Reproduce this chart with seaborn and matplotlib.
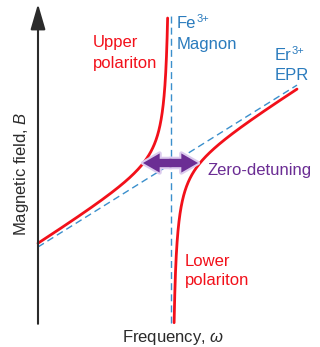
import numpy as np
import pandas as pd
import matplotlib
matplotlib.use("Agg")
import matplotlib.pyplot as plt
import seaborn as sns

# Schematic model parameters (arbitrary units)
magnon_freq = 133.0          # Fe3+ magnon (vertical line)
epr_intercept = 76.0         # Er3+ EPR line: B = intercept + slope * w
epr_slope = 0.625
coupling = 500.0             # anticrossing strength
w_max_epr = 259.0
b_top = 305.0
zero_detune_left = 105.0
zero_detune_right = 160.0
zero_detune_B = 160.0

sns.set_theme(style="white")
plt.rcParams["font.family"] = ["Liberation Sans", "DejaVu Sans"]
plt.rcParams["mathtext.fontset"] = "custom"
plt.rcParams["mathtext.rm"] = "Liberation Sans"
plt.rcParams["mathtext.it"] = "Liberation Sans:italic"
plt.rcParams["mathtext.bf"] = "Liberation Sans:bold"

fig = plt.figure(figsize=(3.2, 3.47), dpi=100)
ax = fig.add_axes([0, 0, 1, 1])
ax.set_xlim(-38, 282)
ax.set_ylim(-24, 323)
ax.axis("off")

red = "#f2101a"
blue = "#3b8fcc"
txtblue = "#2a7bbd"
purple = "#6b2d94"
axcol = "#2b2b2b"

def epr(w):
    return epr_intercept + epr_slope * w

# upper polariton
d_up = np.geomspace(magnon_freq, 0.5, 600)
w_up = magnon_freq - d_up
b_up = epr(w_up) + coupling / d_up
m = b_up <= b_top
up = pd.DataFrame({"w": w_up[m], "B": b_up[m]})
# lower polariton
d_lo = np.geomspace(0.5, w_max_epr - magnon_freq, 600)
w_lo = magnon_freq + d_lo
b_lo = epr(w_lo) - coupling / d_lo
m = b_lo >= 0
lo = pd.DataFrame({"w": w_lo[m], "B": b_lo[m]})

epr_df = pd.DataFrame({"w": [0, w_max_epr], "B": [epr(0), epr(w_max_epr)]})
mag_df = pd.DataFrame({"w": [magnon_freq, magnon_freq], "B": [0, 308]})

sns.lineplot(data=mag_df, x="w", y="B", ax=ax, color=blue, lw=1.0,
             sort=False, estimator=None)
ax.lines[-1].set_dashes([5, 3])
sns.lineplot(data=epr_df, x="w", y="B", ax=ax, color=blue, lw=1.0,
             sort=False, estimator=None)
ax.lines[-1].set_dashes([5, 3])
sns.lineplot(data=up, x="w", y="B", ax=ax, color=red, lw=2.0,
             sort=False, estimator=None)
sns.lineplot(data=lo, x="w", y="B", ax=ax, color=red, lw=2.0,
             sort=False, estimator=None)

# axes arrows
ax.annotate("", xy=(283, 0), xytext=(-1, 0),
            arrowprops=dict(arrowstyle="-|>,head_length=1.3,head_width=0.38",
                            color=axcol, lw=1.5, shrinkA=0, shrinkB=0))
ax.annotate("", xy=(0, 319), xytext=(0, -0.8),
            arrowprops=dict(arrowstyle="-|>,head_length=1.3,head_width=0.38",
                            color=axcol, lw=1.5, shrinkA=0, shrinkB=0))

# zero-detuning double arrow (glow first, then arrow)
mid = (zero_detune_left + zero_detune_right) / 2
style = "simple,head_length=1.0,head_width=1.15,tail_width=0.5"
for col, lw in (("#dccbee", 3.0), (purple, 0)):
    for end, start in ((zero_detune_left, mid + 1), (zero_detune_right, mid - 1)):
        ax.annotate("", xy=(end, zero_detune_B), xytext=(start, zero_detune_B),
                    arrowprops=dict(arrowstyle=style, facecolor=col,
                                    edgecolor=col, lw=lw,
                                    shrinkA=0, shrinkB=0))

fs = 12
ax.text(55, 276, "Upper", color=red, fontsize=fs, ha="left", va="baseline")
ax.text(55, 255, "polariton", color=red, fontsize=fs, ha="left", va="baseline")
ax.text(139, 295, "Fe", color=txtblue, fontsize=fs, ha="left", va="baseline")
ax.text(159, 301, "3+", color=txtblue, fontsize=8, ha="left", va="baseline")
ax.text(139, 274, "Magnon", color=txtblue, fontsize=fs, ha="left", va="baseline")
ax.text(237, 263, "Er", color=txtblue, fontsize=fs, ha="left", va="baseline")
ax.text(254, 269, "3+", color=txtblue, fontsize=8, ha="left", va="baseline")
ax.text(237, 243, "EPR", color=txtblue, fontsize=fs, ha="left", va="baseline")
ax.text(169, 148, "Zero-detuning", color=purple, fontsize=fs, ha="left",
        va="baseline")
ax.text(147, 57, "Lower", color=red, fontsize=fs, ha="left", va="baseline")
ax.text(147, 38, "polariton", color=red, fontsize=fs, ha="left", va="baseline")
ax.text(-16, 149, "Magnetic field, $B$", color=axcol, fontsize=fs,
        rotation=90, ha="center", va="center")
ax.text(135, -19, "Frequency, $\\omega$", color=axcol, fontsize=fs,
        ha="center", va="baseline")

fig.savefig("out.png", dpi=100)
